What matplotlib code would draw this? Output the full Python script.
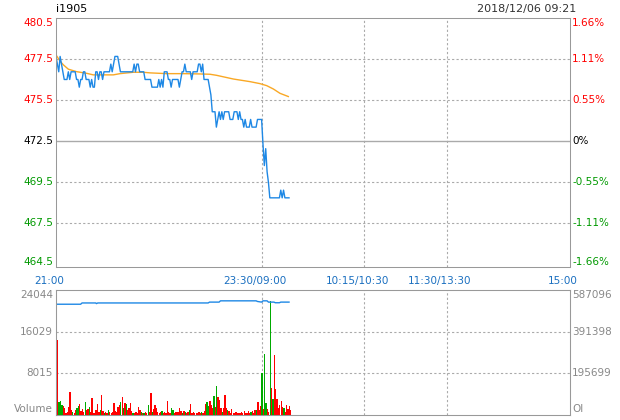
import matplotlib
matplotlib.use('Agg')
import matplotlib.pyplot as plt
import matplotlib.transforms as mtransforms

# i1905 intraday, minutes counted from 21:00
# sessions: 21:00-23:30, 09:00-10:15, 10:30-11:30, 13:30-15:00 -> 375 minutes
price = [478, 477.5, 477, 478, 477.5, 477, 476.5, 476.5, 476.5, 477,
         476.5, 477, 477, 477, 477, 476.5, 476.5, 476, 476.5, 476.5,
         477, 477, 476.5, 476.5, 476.5, 476, 476.5, 476, 476, 477,
         477, 476.5, 477, 477, 476.5, 477, 477, 477, 477, 477,
         477.5, 477, 477.5, 478, 478, 478, 477.5, 477, 477, 477,
         477, 477, 477, 477, 477, 477, 477, 477.5, 477, 477.5,
         477.5, 477, 477, 477, 477, 476.5, 476.5, 476.5, 476.5, 476.5,
         476, 476, 476, 476, 476, 476.5, 476, 476.5, 476, 477,
         477, 477, 476.5, 476.5, 476, 476.5, 476.5, 476.5, 476.5, 476.5,
         476, 476.5, 477, 477, 477.5, 477, 477, 477, 477, 476.5,
         477, 477, 477, 477, 477.5, 477.5, 477, 477.5, 476.5, 476.5,
         476.5, 476.5, 476, 475.5, 474.4, 474.4, 474.4, 473.4, 473.9, 474.4,
         473.9, 474.4, 473.9, 474.4, 474.4, 474.4, 474.4, 473.9, 473.9, 473.9,
         474.4, 474.4, 474.4, 473.9, 474.4, 473.9, 473.9, 473.4, 473.9, 473.4,
         473.4, 473.4, 473.9, 473.4, 473.4, 473.4, 473.4, 473.9, 473.9, 473.9,
         473.9, 472.3, 470.9, 472.0, 470.5, 469.8, 468.8, 468.8, 468.8, 468.8,
         468.8, 468.8, 468.8, 468.8, 469.3, 468.8, 469.3, 468.8, 468.8, 468.8,
         468.8]

avg_min = [0, 2.9, 5.4, 9, 15, 22.4, 27.2, 41.8, 46.7, 56.4, 63.7, 68.6,
           80.7, 92.9, 105, 112.4, 117.2, 129.4, 141.5, 148.8, 153.7, 158.6,
           163.4, 169.5]
avg_price = [478.1, 477.7, 477.45, 477.17, 477.01, 476.9, 476.8, 476.8,
             476.88, 476.97, 476.97, 476.93, 476.88, 476.88, 476.86, 476.84,
             476.77, 476.53, 476.36, 476.23, 476.1, 475.88, 475.6, 475.39]

volume = [14340, 2400, 2600, 1800, 1600, 1200, 300, 500, 1500, 4300,
          900, 500, 300, 800, 1300, 1600, 2000, 700, 1000, 400,
          2500, 800, 1000, 1500, 400, 3100, 300, 300, 800, 2100,
          400, 800, 3800, 600, 300, 500, 300, 800, 400, 300,
          500, 2300, 700, 400, 1500, 1900, 2500, 3300, 1300, 2300,
          2000, 800, 1200, 2200, 600, 300, 300, 500, 300, 1500,
          800, 500, 300, 300, 400, 300, 1800, 500, 4200, 500,
          1000, 1800, 1300, 400, 300, 500, 600, 300, 400, 300,
          2700, 500, 300, 1300, 800, 300, 400, 500, 400, 1300,
          600, 300, 600, 400, 300, 500, 800, 2000, 300, 400,
          300, 300, 300, 400, 300, 500, 300, 600, 2000, 2400,
          1700, 2600, 1800, 1200, 3600, 1500, 5500, 3300, 2800, 1300,
          400, 1300, 3700, 1200, 800, 600, 300, 1000, 300, 300,
          400, 300, 300, 300, 400, 300, 600, 300, 300, 700,
          300, 400, 700, 300, 800, 900, 2400, 800, 1600, 8100,
          1000, 11600, 2300, 1000, 400, 21900, 5200, 3000, 11400, 5000,
          3000, 1200, 1900, 2600, 1500, 1200, 400, 1900, 1000, 1600,
          900]
vol_color = ("RGGGRRRRRR" "RGRRGGRRRR" "GRRGRRRRRR" "RGRRGRRGRR"
             "RRRRRRGRGR" "GRRRRGRRRR" "RGRGRRGRRG" "RRRRRRGRRR"
             "RRRGGRRRRR" "RGRGRRGRRR" "RRRRRGRRRG" "GRRRGRGRRR"
             "GRRRGRRRRR" "RRRRRRRRRR" "RGRRRGRRRG" "RGGRRGRGRR"
             "RRRRRGRRRR" "R")

oi_min = [0, 18, 19, 29, 29.5, 30.5, 111, 112, 119, 120, 146, 147, 150,
          151, 154, 155, 159, 160, 163, 164, 170]
oi = [520000, 520000, 526000, 526000, 523000, 526000, 526000, 530000,
      530000, 536000, 536000, 533000, 530000, 536000, 536000, 530000,
      530000, 527000, 527000, 530000, 530000]

price_labels = ['480.5', '477.5', '475.5', '472.5', '469.5', '467.5', '464.5']
pct_labels = ['1.66%', '1.11%', '0.55%', '0%', '-0.55%', '-1.11%', '-1.66%']
vol_labels = ['24044', '16029', '8015', 'Volume']
vol_ticks = [24044, 16029, 8015, 0]
oi_labels = ['587096', '391398', '195699', 'OI']
time_labels = ['21:00', '23:30/09:00', '10:15/10:30', '11:30/13:30', '15:00']
time_pos = [0, 150, 225, 285, 375]

RED = '#ff0000'
GREEN = '#009900'
GRID = '#aaaaaa'
BORDER = '#999999'
FS = 7.5

fig = plt.figure(figsize=(6.2, 4.2), dpi=100)
W, H = 620, 420
ax = fig.add_axes([56 / W, (H - 267) / H, 514 / W, 249 / H])
axv = fig.add_axes([56 / W, (H - 414.5) / H, 514 / W, 124.5 / H])

base = 472.5
step = 8 / 3
ax.set_xlim(0, 375)
ax.set_ylim(464.3, 480.5)
for k in (-2, -1, 1, 2):
    ax.axhline(base + k * step, color=GRID, lw=0.8, ls=(0, (2, 2)))
ax.axhline(base, color=GRID, lw=1)
for m in time_pos[1:4]:
    ax.axvline(m, color=GRID, lw=0.8, ls=(0, (2, 2)))
    axv.axvline(m, color=GRID, lw=0.8, ls=(0, (2, 2)))

ax.plot(avg_min, avg_price, color='#f9a825', lw=1)
ax.plot(range(len(price)), price, color='#1e88e5', lw=1)

# price / percent labels
trans = ax.get_yaxis_transform()
for i, (pl, cl) in enumerate(zip(price_labels, pct_labels)):
    col = RED if i < 3 else ('black' if i == 3 else GREEN)
    y = base + (3 - i) * step
    va = 'center'
    if i == 0:
        va = 'top'
    elif i == 6:
        y, va = 464.3, 'bottom'
    ax.text(-0.006, y, pl, transform=trans, ha='right', va=va, color=col, fontsize=FS)
    ax.text(1.004, y, cl, transform=trans, ha='left', va=va, color=col, fontsize=FS)

# time labels between the panels
off = mtransforms.ScaledTranslation(-7 / 100, 0, fig.dpi_scale_trans)
for m, t in zip(time_pos, time_labels):
    ax.text(m, -0.055, t, transform=ax.get_xaxis_transform() + off,
            ha='center', va='center', color='#1a6fc0', fontsize=FS)

# volume panel (bars nudged right so the first one clears the border)
colors = [RED if c == 'R' else '#00aa00' for c in vol_color]
xs = [m + 0.8 for m in range(len(volume))]
axv.bar(xs, volume, width=0.95, align='edge', color=colors, linewidth=0,
        zorder=3)
axv.set_xlim(0, 375)
axv.set_ylim(0, 24044)
for v in vol_ticks[1:3]:
    axv.axhline(v, color=GRID, lw=0.8, ls=(0, (2, 2)))
axo = axv.twinx()
axo.set_ylim(0, 587096)
axo.plot(oi_min, oi, color='#1e88e5', lw=1)

transv = axv.get_yaxis_transform()
for i, (vl, ol, v) in enumerate(zip(vol_labels, oi_labels, vol_ticks)):
    va = 'center'
    if i == 0:
        va = 'top'
    elif i == 3:
        va = 'bottom'
    axv.text(-0.006, v, vl, transform=transv, ha='right', va=va, color='#888888', fontsize=FS)
    axv.text(1.004, v, ol, transform=transv, ha='left', va=va, color='#888888', fontsize=FS)

for a in (ax, axv, axo):
    a.set_xticks([])
    a.set_yticks([])
    for s in a.spines.values():
        s.set_color(BORDER)
        s.set_linewidth(0.75)

fig.text(56 / W, 1 - 9 / H, 'i1905', ha='left', va='center', fontsize=8, color='black')
fig.text(576 / W, 1 - 9 / H, '2018/12/06 09:21', ha='right', va='center', fontsize=8, color='#333333')

fig.savefig('out.png', dpi=100, facecolor='white')
